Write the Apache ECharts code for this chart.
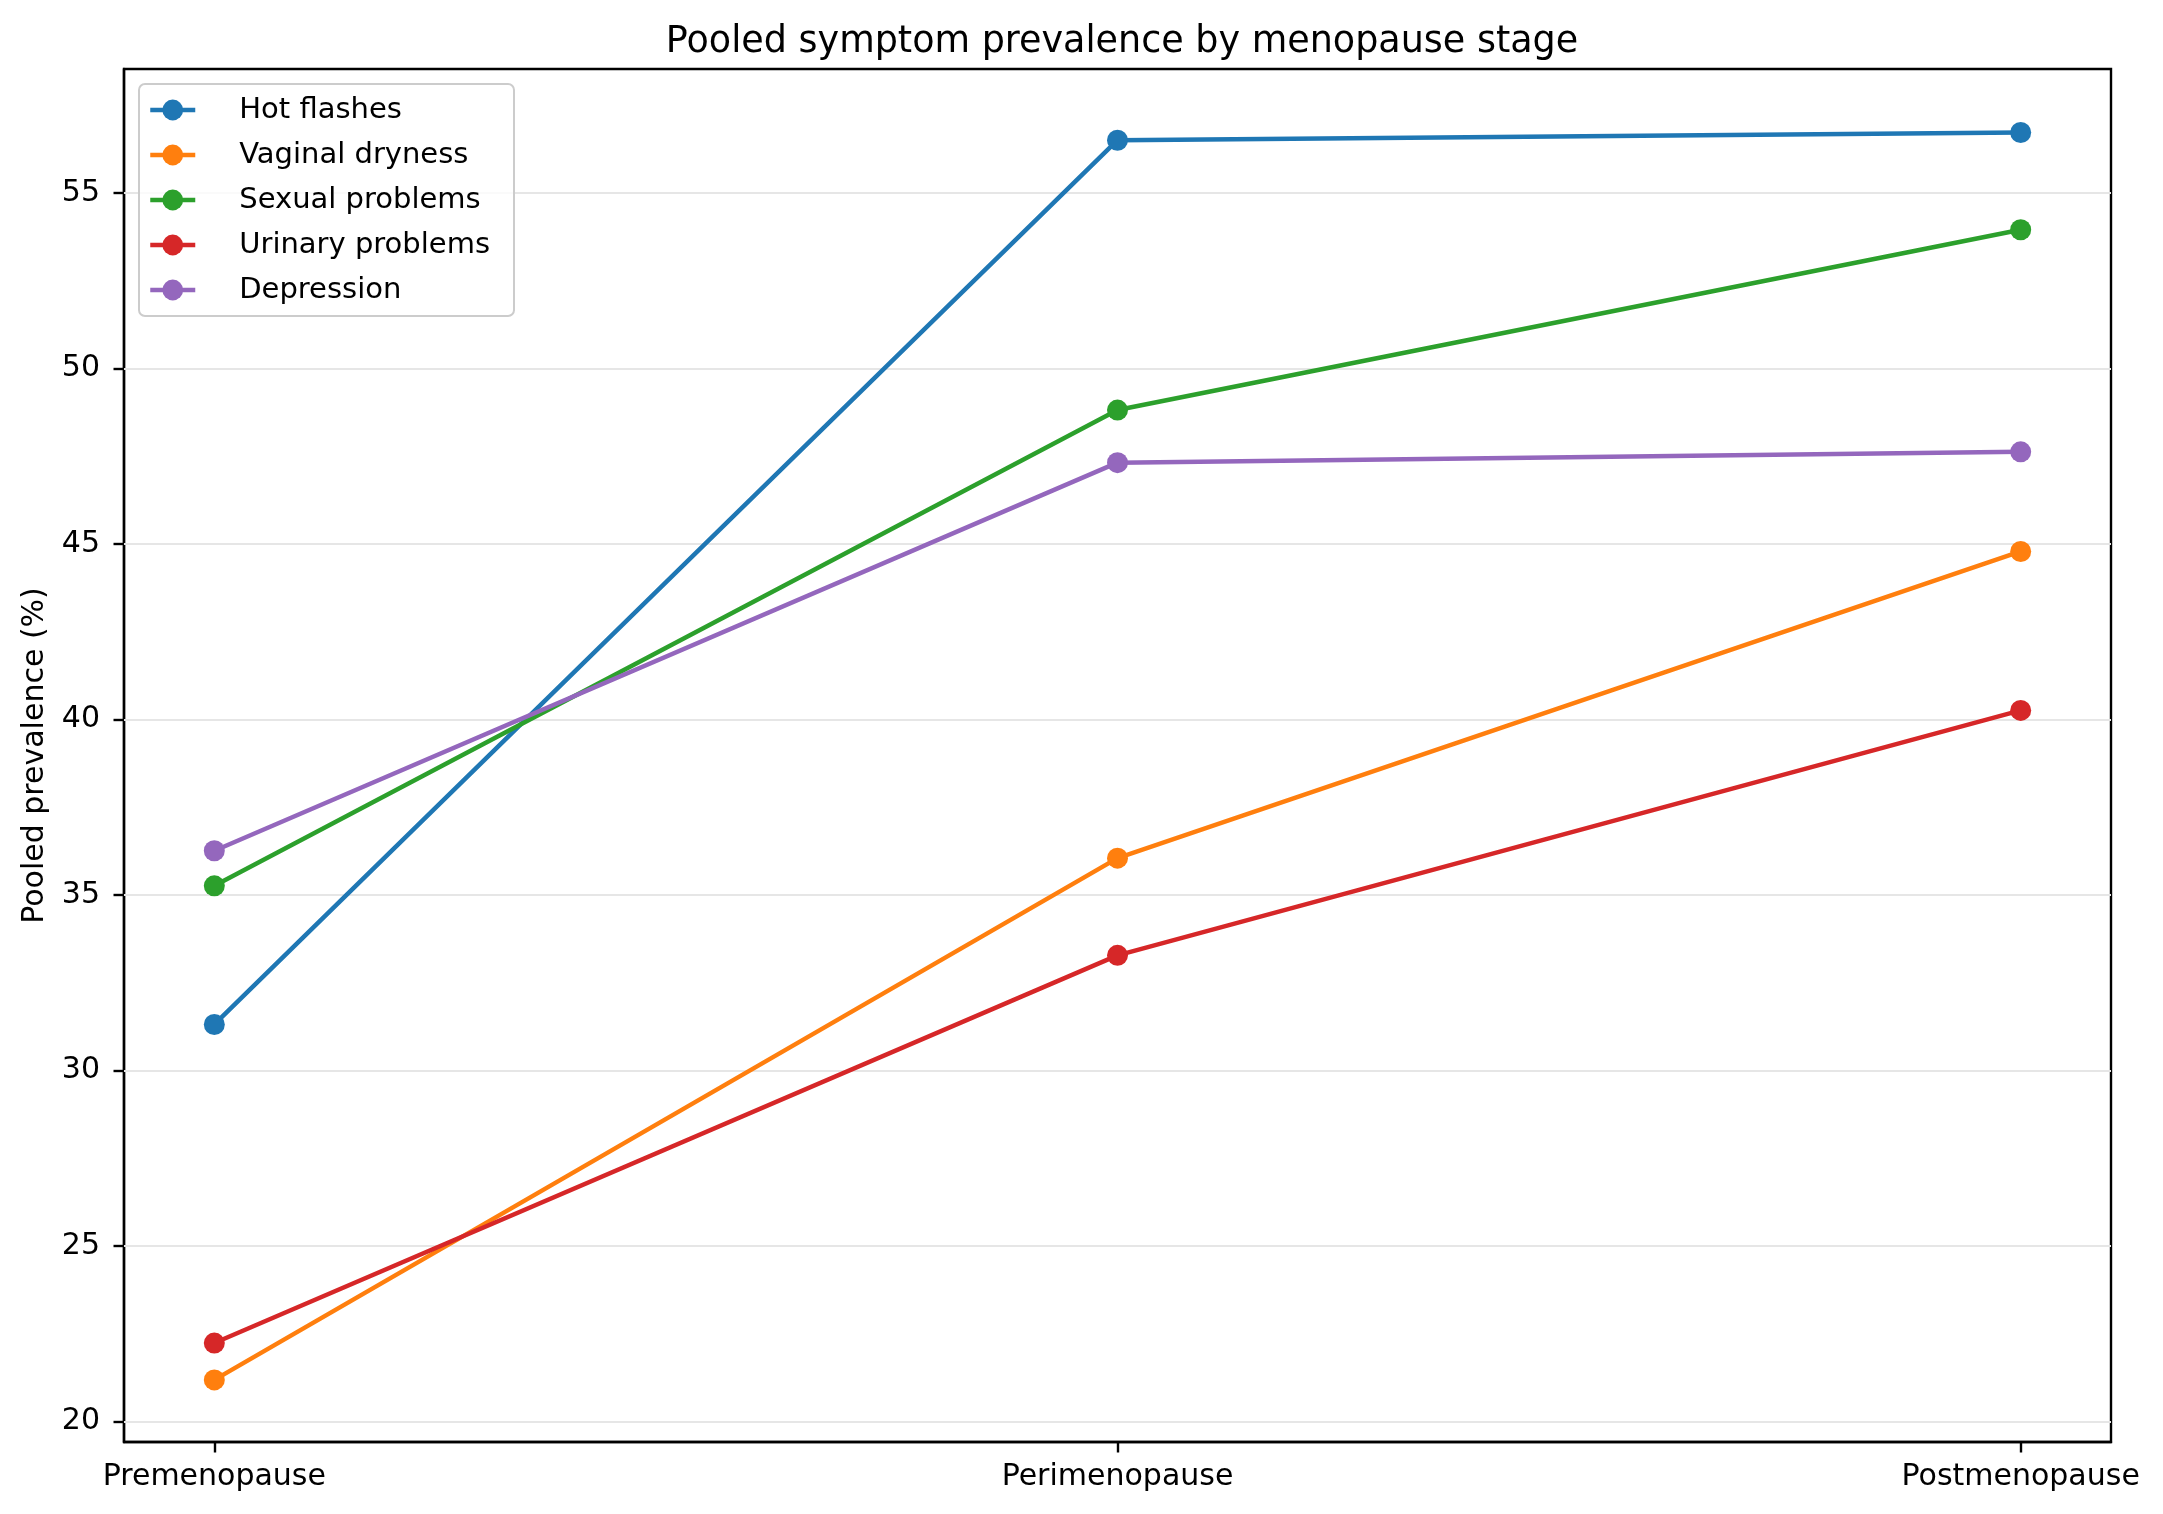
<!DOCTYPE html>
<html><head><meta charset="utf-8">
<script src="https://cdn.jsdelivr.net/npm/echarts@6/dist/echarts.min.js"></script>
<style>html,body{margin:0;padding:0;background:#fff}#c{width:2163px;height:1514px}</style>
</head><body><div id="c"></div>
<script>
const stages = ['Premenopause', 'Perimenopause', 'Postmenopause'];
const hotFlashes = [31.31, 56.51, 56.73];
const vaginalDryness = [21.18, 36.05, 44.79];
const sexualProblems = [35.26, 48.82, 53.96];
const urinaryProblems = [22.23, 33.28, 40.26];
const depression = [36.26, 47.32, 47.63];
const yTicks = [20, 25, 30, 35, 40, 45, 50, 55];
const seriesNames = ['Hot flashes', 'Vaginal dryness', 'Sexual problems', 'Urinary problems', 'Depression'];
const seriesValues = [hotFlashes, vaginalDryness, sexualProblems, urinaryProblems, depression];
const colors = ['#1f77b4', '#ff7f0e', '#2ca02c', '#d62728', '#9467bd'];

const FONT = 'DejaVu Sans';
const chart = echarts.init(document.getElementById('c'), null, {renderer: 'canvas'});

const lineSeries = seriesNames.map((name, i) => ({
  name: name,
  type: 'line',
  data: seriesValues[i].map((v, j) => [j, v]),
  symbol: 'circle',
  symbolSize: 21,
  showSymbol: true,
  lineStyle: {width: 4.5, color: colors[i]},
  itemStyle: {color: colors[i]},
  z: 3,
  animation: false
}));

const gridSeries = {
  type: 'line',
  data: [],
  silent: true,
  z: 1,
  markLine: {
    silent: true,
    z: 1,
    symbol: ['none', 'none'],
    label: {show: false},
    lineStyle: {color: '#e6e6e6', width: 2.2, type: 'solid'},
    emphasis: {disabled: true},
    data: yTicks.map(t => ({yAxis: t})),
    animation: false
  }
};

chart.setOption({
  backgroundColor: '#ffffff',
  animation: false,
  color: colors,
  title: {
    text: 'Pooled symptom prevalence by menopause stage',
    left: 1117, top: 19, textAlign: 'center',
    textStyle: {fontFamily: FONT, fontSize: 36.5, fontWeight: 'normal', color: '#000'}
  },
  legend: {
    data: seriesNames,
    orient: 'vertical',
    left: 139, top: 84,
    padding: [10, 24, 10, 9],
    itemGap: 13,
    itemWidth: 45,
    itemHeight: 26,
    borderColor: '#cccccc',
    borderWidth: 2,
    borderRadius: 6,
    backgroundColor: 'rgba(255,255,255,0.8)',
    lineStyle: {width: 4.5},
    z: 10,
    textStyle: {fontFamily: FONT, fontSize: 29, color: '#000', lineHeight: 32, padding: [0, 0, 0, 39]}
  },
  grid: {
    left: 124, right: 52, top: 69, bottom: 72,
    show: true, borderColor: '#000', borderWidth: 2.4, backgroundColor: 'transparent'
  },
  xAxis: {
    type: 'value',
    min: -0.1, max: 2.1,
    splitLine: {show: false},
    axisLine: {show: true, onZero: false, lineStyle: {color: '#000', width: 2.4}},
    axisTick: {show: true, customValues: [0, 1, 2], length: 10.5, lineStyle: {color: '#000', width: 2.4}},
    axisLabel: {
      customValues: [0, 1, 2],
      formatter: v => stages[Math.round(v)],
      fontFamily: FONT, fontSize: 30, color: '#000', margin: 20
    }
  },
  yAxis: {
    type: 'value',
    min: 19.41, max: 58.54,
    name: 'Pooled prevalence (%)',
    nameLocation: 'middle',
    nameRotate: 90,
    nameGap: 74,
    nameTextStyle: {fontFamily: FONT, fontSize: 30, color: '#000'},
    splitLine: {show: false},
    axisLine: {show: true, onZero: false, lineStyle: {color: '#000', width: 2.4}},
    axisTick: {show: true, customValues: yTicks, length: 10.5, lineStyle: {color: '#000', width: 2.4}},
    axisLabel: {
      customValues: yTicks,
      fontFamily: FONT, fontSize: 30, color: '#000', margin: 24
    }
  },
  series: [gridSeries].concat(lineSeries)
});
</script>
</body></html>
